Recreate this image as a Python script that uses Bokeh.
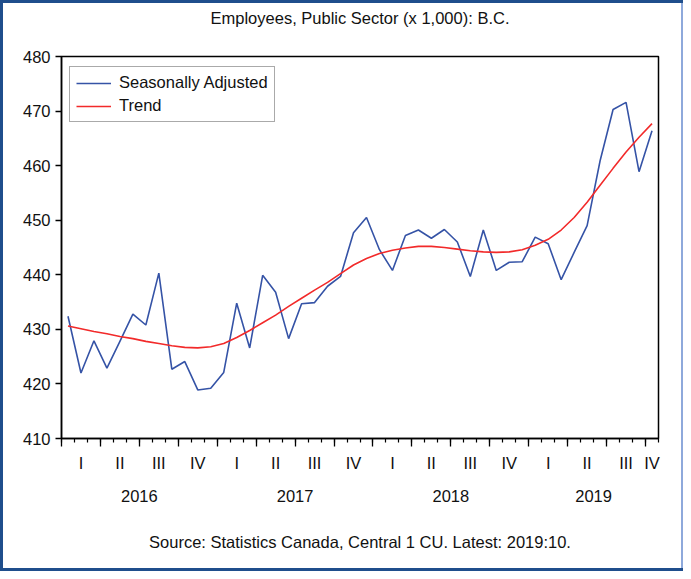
from bokeh.plotting import figure
from bokeh.models import FixedTicker, LinearAxis, Legend, LegendItem, Range1d
from bokeh.embed import file_html
from bokeh.resources import INLINE

# ---- data (monthly, Jan 2016 .. Oct 2019) ----
years = [2016] * 12 + [2017] * 12 + [2018] * 12 + [2019] * 10
months = list(range(len(years)))
seasonally_adjusted = [
    432.4, 422.0, 427.9, 422.9, 427.8, 432.8, 430.8, 440.3, 422.7, 424.1, 418.9, 419.2,
    422.1, 434.8, 426.6, 439.9, 436.8, 428.3, 434.7, 434.9, 437.9, 439.7, 447.7, 450.5,
    444.6, 440.8, 447.2, 448.2, 446.7, 448.3, 446.0, 439.7, 448.2, 440.8, 442.3, 442.4,
    446.9, 445.7, 439.1, 444.1, 449.0, 460.9, 470.3, 471.6, 458.9, 466.4,
]
trend = [
    430.6, 430.1, 429.6, 429.2, 428.7, 428.3, 427.8, 427.4, 427.0, 426.7, 426.6, 426.8,
    427.4, 428.5, 429.8, 431.2, 432.6, 434.2, 435.7, 437.2, 438.6, 440.2, 441.8, 443.0,
    443.9, 444.5, 444.9, 445.2, 445.2, 445.0, 444.7, 444.4, 444.2, 444.1, 444.2, 444.6,
    445.4, 446.5, 448.2, 450.5, 453.3, 456.4, 459.5, 462.5, 465.2, 467.7,
]
quarter_labels = ["I", "II", "III", "IV"]
year_labels = ["2016", "2017", "2018", "2019"]
y_ticks = [410, 420, 430, 440, 450, 460, 470, 480]

title_text = "Employees, Public Sector (x 1,000): B.C."
source_text = "Source: Statistics Canada, Central 1 CU. Latest: 2019:10."

FONT = "Liberation Sans"
FS = "16.5px"
TXT = "#111111"
BLUE = "#3553A6"
RED = "#F22A2A"

W, H = 683, 571
FL, FT, FR, FB = 61, 56, 658, 438  # frame edges (canvas px)

n = len(months)
x0, x1 = -0.5, n - 0.5

p = figure(width=W, height=H, output_backend="svg", toolbar_location=None, title=None,
           x_range=Range1d(x0, x1), y_range=Range1d(min(y_ticks), max(y_ticks)),
           min_border_left=FL, min_border_top=FT,
           min_border_right=W - FR, min_border_bottom=H - FB,
           styles={"background-color": "white",
                   "box-shadow": "inset 3px 0 0 0 #1F4E8C, inset 0 3px 0 0 #1F4E8C, "
                                 "inset 0 -3px 0 0 #1F4E8C, inset -2px 0 0 0 #8EA9DB"})
p.grid.visible = False
p.outline_line_color = "black"
p.outline_line_width = 1.5
p.background_fill_color = "white"
p.border_fill_color = None
p.border_fill_alpha = 0

# x axis: month ticks, quarter boundaries as major ticks
p.xaxis.ticker = FixedTicker(ticks=[m - 0.5 for m in months if m % 3 == 0],
                             minor_ticks=[m - 0.5 for m in months] + [x1])
p.xaxis.major_label_text_color = None
p.xaxis.major_label_text_font_size = FS
p.xaxis.major_label_standoff = 0
p.xaxis.major_tick_out = 8
p.xaxis.major_tick_in = 0
p.xaxis.minor_tick_out = 4
p.xaxis.minor_tick_in = 0
p.xaxis.axis_line_width = 1.5
p.xaxis.major_tick_line_width = 1.3
p.xaxis.minor_tick_line_width = 1.2
p.xaxis.axis_line_color = "black"

# y axis
p.yaxis.ticker = FixedTicker(ticks=y_ticks, minor_ticks=[])
p.yaxis.major_tick_out = 6
p.yaxis.major_tick_in = 0
p.yaxis.axis_line_width = 1.5
p.yaxis.major_tick_line_width = 1.3
p.yaxis.major_label_standoff = 5
p.yaxis.major_label_text_font = FONT
p.yaxis.major_label_text_font_size = FS
p.yaxis.major_label_text_color = TXT

def label_axis(ticks, labels, standoff, side="below"):
    ax = LinearAxis(ticker=FixedTicker(ticks=ticks, minor_ticks=[]),
                    major_label_overrides={t: l for t, l in zip(ticks, labels)})
    ax.axis_line_color = None
    ax.major_tick_line_color = None
    ax.minor_tick_line_color = None
    ax.major_tick_out = 0
    ax.major_tick_in = 0
    ax.minor_tick_out = 0
    ax.minor_tick_in = 0
    ax.major_label_standoff = standoff
    ax.major_label_text_font = FONT
    ax.major_label_text_font_size = FS
    ax.major_label_text_color = TXT
    p.add_layout(ax, side)
    return ax

def centre(idx):
    return sum(idx) / len(idx)

# quarter labels (centre of each quarter's months)
q_pos, q_lab = [], []
for qs in range(0, n, 3):
    idx = [m for m in months if qs <= m < qs + 3]
    q_pos.append(centre(idx))
    q_lab.append(quarter_labels[(qs // 3) % 4])
label_axis(q_pos, q_lab, 7)

# year labels (centre of each year's months)
y_pos = [centre([m for m in months if years[m] == int(yl)]) for yl in year_labels]
label_axis(y_pos, year_labels, 15)

# source line and title, centred over the plot
mid = centre([x0, x1])
label_axis([mid], [source_text], 28)
label_axis([mid], [title_text], 30, side="above")

r_sa = p.line(months, seasonally_adjusted, line_color=BLUE, line_width=1.6)
r_tr = p.line(months, trend, line_color=RED, line_width=1.6)

legend = Legend(items=[LegendItem(label="Seasonally Adjusted", renderers=[r_sa]),
                       LegendItem(label="Trend", renderers=[r_tr])],
                location=(8, 316))
legend.label_text_font = FONT
legend.label_text_font_size = FS
legend.label_text_color = TXT
legend.glyph_width = 35
legend.glyph_height = 18
legend.label_height = 18
legend.label_standoff = 8
legend.spacing = 4
legend.padding = 6
legend.margin = 0
legend.border_line_color = "#555555"
legend.border_line_width = 1.5
legend.background_fill_color = "white"
legend.background_fill_alpha = 1.0
p.add_layout(legend)

open("out.html", "w").write(file_html(p, INLINE))
